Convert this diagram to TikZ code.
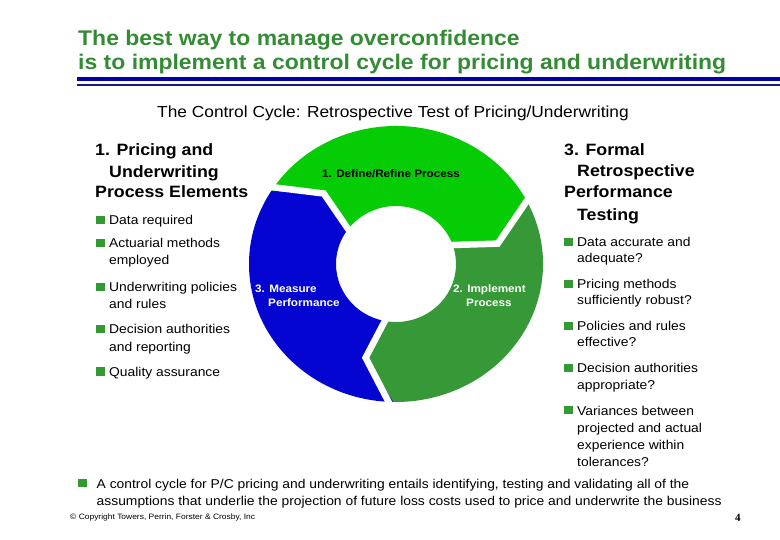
\documentclass[tikz,border=0pt]{standalone}
\usepackage{fontspec}
\setmainfont{Liberation Sans}[FakeStretch=1.083]
\newfontfamily\pgfont{Liberation Serif}
\definecolor{titlegreen}{RGB}{51,140,51}
\definecolor{bulgreen}{RGB}{51,153,51}
\definecolor{ringgreen}{RGB}{5,204,5}
\definecolor{ringdark}{RGB}{54,152,54}
\definecolor{ringblue}{RGB}{5,5,210}
\definecolor{linethick}{RGB}{0,0,165}
\definecolor{linethin}{RGB}{25,25,115}
\newcommand{\fsz}[1]{\fontsize{#1}{#1}\selectfont}
\tikzset{
  txt/.style={anchor=base west, inner sep=0pt, font=\fsz{12.8}},
  head/.style={anchor=base west, inner sep=0pt, font=\bfseries\fsz{16.4}},
  titletxt/.style={anchor=base west, inner sep=0pt, text=titlegreen, font=\bfseries\fsz{21.2}},
  bul/.style={fill=bulgreen, inner sep=0pt, minimum size=8.5pt, anchor=south west},
  ringlbl/.style={anchor=base west, inner sep=0pt, font=\bfseries\fsz{10.8}},
  gap/.style={white, line width=6.5pt, line join=miter},
}
\begin{document}
\begin{tikzpicture}[x=1pt,y=-1pt]
\useasboundingbox (0,0) rectangle (780,540);
% title
\node[titletxt] (t1) at (78,45.5) {The best way to manage overconfidence};
\node[titletxt] (t2) at (78,69.5) {is to implement a control cycle for pricing and underwriting};
\draw[linethick, line width=3.7pt] (77,79.2) -- (780,79.2);
\draw[linethin, line width=2pt] (77,85.3) -- (780,85.3);
\node[anchor=base, inner sep=0pt, font=\fsz{16}] (sub) at (393,118) {The Control Cycle: Retrospective Test of Pricing/Underwriting};
% ring
\begin{scope}[shift={(396,264)}, yscale=-1]
\fill[ringgreen] (148:147 and 138) arc[start angle=148, end angle=29, x radius=147, y radius=138]
  -- (12:104 and 98) -- (22:60 and 58) arc[start angle=22, end angle=146, x radius=60, y radius=58]
  -- (134:104 and 98) -- cycle;
\fill[ringdark] (29:147 and 138) arc[start angle=29, end angle=-91, x radius=147, y radius=138]
  -- (-107:104 and 98) -- (-98:60 and 58) arc[start angle=-98, end angle=22, x radius=60, y radius=58]
  -- (12:104 and 98) -- cycle;
\fill[ringblue] (-91:147 and 138) arc[start angle=-91, end angle=-212, x radius=147, y radius=138]
  -- (-226:104 and 98) -- (-214:60 and 58) arc[start angle=-214, end angle=-98, x radius=60, y radius=58]
  -- (-107:104 and 98) -- cycle;
\draw[gap] (148:156 and 147) -- (134:104 and 98) -- (146:52 and 50);
\draw[gap] (29:156 and 147) -- (12:104 and 98) -- (22:52 and 50);
\draw[gap] (-91:156 and 147) -- (-107:104 and 98) -- (-98:52 and 50);
\end{scope}
\node[ringlbl] (r1) at (322,178) {1. Define/Refine Process};
\node[ringlbl, text=white] (r2a) at (453,293) {2. Implement};
\node[ringlbl, text=white] (r2b) at (466,306.5) {Process};
\node[ringlbl, text=white] (r3a) at (255,293) {3. Measure};
\node[ringlbl, text=white] (r3b) at (268,306.5) {Performance};
% left column
\node[head] (lh1) at (95,156) {1. Pricing and};
\node[head] (lh2) at (109,177.5) {Underwriting};
\node[head] (lh3) at (95,198) {Process Elements};
\node[bul] (lb1) at (96,224.5) {};
\node[txt] (l1) at (109,225) {Data required};
\node[bul] (lb2) at (96,247.5) {};
\node[txt] (l2a) at (109,248) {Actuarial methods};
\node[txt] (l2b) at (109,265) {employed};
\node[bul] (lb3) at (96,291.5) {};
\node[txt] (l3a) at (109,292) {Underwriting policies};
\node[txt] (l3b) at (109,309) {and rules};
\node[bul] (lb4) at (96,333.5) {};
\node[txt] (l4a) at (109,334) {Decision authorities};
\node[txt] (l4b) at (109,351.5) {and reporting};
\node[bul] (lb5) at (96,376) {};
\node[txt] (l5) at (109,376.5) {Quality assurance};
% right column
\node[head] (rh1) at (564,156) {3. Formal};
\node[head] (rh2) at (577,177) {Retrospective};
\node[head] (rh3) at (564,198) {Performance};
\node[head] (rh4) at (577,220.5) {Testing};
\node[bul] (rb1) at (564,246.5) {};
\node[txt] (q1a) at (577,247) {Data accurate and};
\node[txt] (q1b) at (577,263) {adequate?};
\node[bul] (rb2) at (564,288.5) {};
\node[txt] (q2a) at (577,289) {Pricing methods};
\node[txt] (q2b) at (577,305) {sufficiently robust?};
\node[bul] (rb3) at (564,330.5) {};
\node[txt] (q3a) at (577,331) {Policies and rules};
\node[txt] (q3b) at (577,347) {effective?};
\node[bul] (rb4) at (564,372.5) {};
\node[txt] (q4a) at (577,373) {Decision authorities};
\node[txt] (q4b) at (577,389) {appropriate?};
\node[bul] (rb5) at (564,414.5) {};
\node[txt] (q5a) at (577,415) {Variances between};
\node[txt] (q5b) at (577,432) {projected and actual};
\node[txt] (q5c) at (577,449) {experience within};
\node[txt] (q5d) at (577,466) {tolerances?};
% bottom
\node[bul] (bb) at (78,487.5) {};
\node[txt] (b1) at (96.5,488) {A control cycle for P/C pricing and underwriting entails identifying, testing and validating all of the};
\node[txt] (b2) at (96.5,505) {assumptions that underlie the projection of future loss costs used to price and underwrite the business};
\node[anchor=base west, inner sep=0pt, font=\fsz{7.8}] (copy) at (70,519) {© Copyright Towers, Perrin, Forster \& Crosby, Inc};
\node[anchor=base west, inner sep=0pt, font=\pgfont\bfseries\fsz{11}] (pg) at (735,521) {4};
\end{tikzpicture}
\end{document}
